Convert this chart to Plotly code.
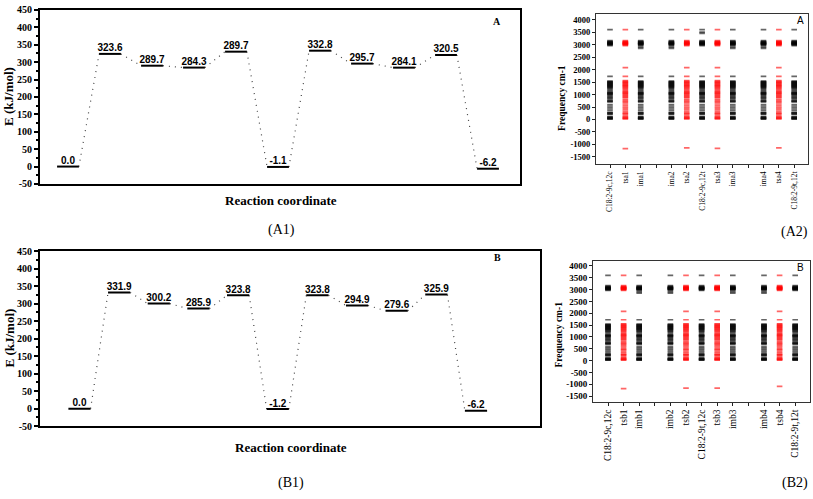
import plotly.graph_objects as go

W, H = 813, 499

# ---------------- data: energy profiles ----------------
energy_A = [0.0, 323.6, 289.7, 284.3, 330.0, -1.1, 332.8, 295.7, 284.1, 320.5, -6.2]
labels_A = ["0.0", "323.6", "289.7", "284.3", "289.7", "-1.1", "332.8", "295.7", "284.1", "320.5", "-6.2"]
energy_B = [0.0, 331.9, 300.2, 285.9, 323.8, -1.2, 323.8, 294.9, 279.6, 325.9, -6.2]
labels_B = ["0.0", "331.9", "300.2", "285.9", "323.8", "-1.2", "323.8", "294.9", "279.6", "325.9", "-6.2"]
energy_ticks = [-50, 0, 50, 100, 150, 200, 250, 300, 350, 400, 450]

# ---------------- data: vibrational frequencies ----------------
cats_A = ["C18:2-9c,12c", "tsa1", "ima1", "", "ima2", "tsa2", "C18:2-9c,12t", "tsa3", "ima3", "", "ima4", "tsa4", "C18:2-9t,12t"]
cats_B = ["C18:2-9c,12c", "tsb1", "imb1", "", "imb2", "tsb2", "C18:2-9t,12c", "tsb3", "imb3", "", "imb4", "tsb4", "C18:2-9t,12t"]
kind_A = ["min", "ts", "im", "", "im", "ts", "min", "ts", "im", "", "im", "ts", "min"]
kind_B = ["min", "ts", "im", "", "im", "ts", "min", "ts", "im", "", "im", "ts", "min"]
freq_ticks = [-1500, -1000, -500, 0, 500, 1000, 1500, 2000, 2500, 3000, 3500, 4000]

low_band_min = [15, 30, 45, 60, 75, 95, 120, 200, 225, 250, 270, 290, 360, 420, 480, 540, 600, 700,
                720, 740, 760, 800, 850, 880, 920, 960, 1000, 1020, 1040, 1060, 1080, 1100, 1150, 1200,
                1240, 1270, 1300, 1320, 1340, 1360, 1380, 1400, 1420, 1440, 1460, 1480, 1500, 1520, 1540]
low_band_ts = [20, 40, 60, 80, 110, 150, 210, 240, 270, 330, 390, 450, 500, 560, 620, 680, 720, 760,
               810, 870, 910, 950, 990, 1030, 1060, 1090, 1120, 1160, 1210, 1250, 1290, 1320, 1350,
               1380, 1410, 1440, 1470, 1500, 1530, 1555]
carbonyl = [1725]
ch_band = [2960, 2990, 3005, 3020, 3035, 3045, 3055, 3065, 3080, 3095, 3110, 3130, 3160]
oh_band = [3600]
ts_extra = [2075]
im_extra = [2850, 2900]
trans_extra = [3450, 3500]
imag_A = {"tsa1": -1170, "tsa2": -1140, "tsa3": -1160, "tsa4": -1140}
imag_B = {"tsb1": -1180, "tsb2": -1160, "tsb3": -1160, "tsb4": -1090}

# ---------------- pixel layout helpers ----------------
def dx(x0, x1):
    return [x0 / W, x1 / W]

def dy(y0, y1):
    return [1 - y1 / H, 1 - y0 / H]

fig = go.Figure()

SERIF = "Liberation Serif"
SANS = "Liberation Sans"

def add_profile(energies, labels, xa, ya, hw):
    n = len(energies)
    for i in range(n - 1):
        fig.add_trace(go.Scatter(
            x=[i + hw, i + 1 - hw], y=[energies[i], energies[i + 1]],
            mode="lines", line=dict(color="#444", width=1.2, dash="1px,5px"),
            xaxis=xa, yaxis=ya, hoverinfo="skip", showlegend=False))
    for i in range(n):
        fig.add_trace(go.Scatter(
            x=[i - hw, i + hw], y=[energies[i], energies[i]],
            mode="lines", line=dict(color="black", width=2),
            xaxis=xa, yaxis=ya, hoverinfo="skip", showlegend=False))
    fig.add_trace(go.Scatter(
        x=list(range(n)), y=energies, mode="text",
        text=["<b>" + t + "</b>" for t in labels], textposition="top center",
        textfont=dict(family=SANS, size=10, color="black"),
        xaxis=xa, yaxis=ya, hoverinfo="skip", showlegend=False))

add_profile(energy_A, labels_A, "x", "y", 0.26)
add_profile(energy_B, labels_B, "x3", "y3", 0.28)

def add_freqs(cats, kinds, imag, xa, ya, variant):
    for i, (c, k) in enumerate(zip(cats, kinds)):
        if k == "":
            continue
        if k == "ts":
            vals = low_band_ts + carbonyl + ts_extra + ch_band + oh_band + [imag[c]]
            col = "rgba(255,0,0,0.6)"
        else:
            vals = low_band_min + carbonyl + ch_band + oh_band
            if k == "im":
                vals = vals + im_extra
            if variant == "A" and c == "C18:2-9c,12t":
                vals = vals + trans_extra
            col = "rgba(0,0,0,0.6)"
        fig.add_trace(go.Scatter(
            x=[i] * len(vals), y=vals, mode="markers",
            marker=dict(symbol="line-ew", size=4, line=dict(width=1.7, color=col)),
            xaxis=xa, yaxis=ya, hoverinfo="skip", showlegend=False))

add_freqs(cats_A, kind_A, imag_A, "x2", "y2", "A")
add_freqs(cats_B, kind_B, imag_B, "x4", "y4", "B")

# ---------------- axes ----------------
def energy_axes(xdom, ydom, xr):
    xa = dict(domain=xdom, range=xr, showticklabels=False, ticks="", showgrid=False, zeroline=False,
              showline=True, mirror=True, linecolor="black", linewidth=2)
    ya = dict(domain=ydom, range=[-50, 450], tickvals=energy_ticks, ticktext=[str(v) for v in energy_ticks],
              ticks="outside", ticklen=4, tickwidth=1.5, tickcolor="black",
              minor=dict(ticks="outside", ticklen=2, dtick=25, tickcolor="black"),
              tickfont=dict(family=SERIF, size=10, color="black", weight="bold"),
              showgrid=False, zeroline=False, showline=True, mirror=True, linecolor="black", linewidth=2)
    return xa, ya

def freq_axes(xdom, ydom, xr, yr, cats, xfs, yfs):
    xa = dict(domain=xdom, range=xr, tickvals=list(range(len(cats))), ticktext=cats, tickangle=-90,
              ticks="outside", ticklen=3, tickcolor="#222",
              tickfont=dict(family=SERIF, size=xfs, color="black"),
              showgrid=False, zeroline=False, showline=True, mirror=True, linecolor="#333", linewidth=1)
    ya = dict(domain=ydom, range=yr, tickvals=freq_ticks, ticktext=[str(v) for v in freq_ticks],
              ticks="outside", ticklen=3, tickcolor="#222",
              tickfont=dict(family=SERIF, size=yfs, color="black", weight="bold"),
              showgrid=False, zeroline=False, showline=True, mirror=True, linecolor="#333", linewidth=1)
    return xa, ya

x1, y1 = energy_axes(dx(40, 520), dy(5, 183), [(40 - 68) / 42, (520 - 68) / 42])
x3, y3 = energy_axes(dx(40, 540), dy(251.7, 430.7), [(40 - 79.5) / 39.65, (540 - 79.5) / 39.65])
x2, y2 = freq_axes(dx(596, 808), dy(9, 163), [(596 - 610) / 15.35, (808 - 610) / 15.35],
                   [-1800, 4235], cats_A, 7.5, 8.5)
x4, y4 = freq_axes(dx(593, 810), dy(261.7, 405.7), [(593 - 608) / 15.6, (810 - 608) / 15.6],
                   [-1735, 4206], cats_B, 9.5, 9)

def ann(text, x, y, size, family=SERIF, angle=0, bold=False, xanchor="center"):
    t = "<b>" + text + "</b>" if bold else text
    return dict(text=t, x=x / W, y=1 - y / H, xref="paper", yref="paper", showarrow=False,
                xanchor=xanchor, yanchor="middle", textangle=angle,
                font=dict(family=family, size=size, color="black"))

annotations = [
    ann("E (kJ/mol)", 9, 94, 13, angle=-90, bold=True),
    ann("Reaction coordinate", 281, 200, 13, bold=True),
    ann("(A1)", 281, 230, 14),
    ann("A", 497, 17, 10, bold=True),
    ann("E (kJ/mol)", 9, 341, 13, angle=-90, bold=True),
    ann("Reaction coordinate", 291, 452, 13, bold=True),
    ann("(B1)", 291, 489, 14),
    ann("B", 497, 258, 10, bold=True),
    ann("Frequency cm-1", 562, 95, 9.5, angle=-90, bold=True),
    ann("A", 800, 16, 10, family=SANS),
    ann("(A2)", 810, 232, 14, xanchor="right"),
    ann("Frequency cm-1", 559, 337, 9.5, angle=-90, bold=True),
    ann("B", 800, 268, 10, family=SANS),
    ann("(B2)", 810, 489, 14, xanchor="right"),
]

fig.update_layout(
    width=W, height=H, margin=dict(l=0, r=0, t=0, b=0),
    paper_bgcolor="white", plot_bgcolor="white", showlegend=False,
    xaxis=x1, yaxis=y1, xaxis2=x2, yaxis2=y2, xaxis3=x3, yaxis3=y3, xaxis4=x4, yaxis4=y4,
    annotations=annotations,
)
for k, (xa, ya) in {"x": ("xaxis", "y"), "x2": ("xaxis2", "y2"), "x3": ("xaxis3", "y3"), "x4": ("xaxis4", "y4")}.items():
    fig.layout[xa].anchor = ya
    fig.layout["yaxis" + ya[1:]].anchor = k

fig.write_html("out.html", config={"displayModeBar": False},
               post_script="document.body.style.margin='0';document.body.style.overflow='hidden';")
